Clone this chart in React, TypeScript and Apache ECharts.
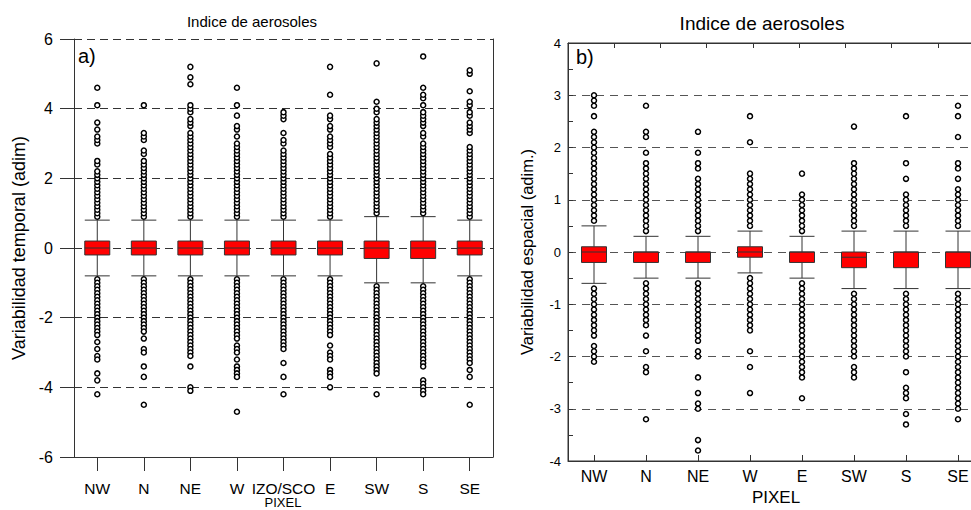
import React, { useEffect, useRef } from 'react';
import * as echarts from 'echarts';

const FONT = '"Liberation Sans", Arial, Helvetica, sans-serif';

// ---------- Panel a) ----------
const titleA = 'Indice de aerosoles';
const categoriesA = ['NW', 'N', 'NE', 'W', 'IZO/SCO', 'E', 'SW', 'S', 'SE'];
// [lower whisker, Q1, median, Q3, upper whisker]
const boxStatsA = [
  [-0.8, -0.2, 0, 0.2, 0.8],
  [-0.8, -0.2, 0, 0.2, 0.8],
  [-0.8, -0.2, 0, 0.2, 0.8],
  [-0.8, -0.2, 0, 0.2, 0.8],
  [-0.8, -0.2, 0, 0.2, 0.8],
  [-0.8, -0.2, 0, 0.2, 0.8],
  [-1.0, -0.3, 0, 0.2, 0.9],
  [-1.0, -0.3, 0, 0.2, 0.9],
  [-0.8, -0.2, 0, 0.2, 0.8],
];
const outliersA = [
  [0.9, 1, 1.1, 1.2, 1.3, 1.4, 1.5, 1.6, 1.7, 1.8, 1.9, 2, 2.1, 2.2, 2.4, 2.5, 3, 3.1, 3.2, 3.4, 3.6, 4.1, 4.6,
    -0.9, -1, -1.1, -1.2, -1.3, -1.4, -1.5, -1.6, -1.7, -1.8, -1.9, -2, -2.1, -2.2, -2.3, -2.4, -2.5, -2.7, -2.9, -3.1, -3.2, -3.6, -3.8, -4.2],
  [0.9, 1, 1.1, 1.2, 1.3, 1.4, 1.5, 1.6, 1.7, 1.8, 1.9, 2, 2.1, 2.2, 2.3, 2.4, 2.5, 2.7, 2.8, 3.1, 3.2, 3.3, 4.1,
    -0.9, -1, -1.1, -1.2, -1.3, -1.4, -1.5, -1.6, -1.7, -1.8, -1.9, -2, -2.1, -2.2, -2.3, -2.4, -2.6, -2.9, -3, -3.4, -3.7, -4.5],
  [0.9, 1, 1.1, 1.2, 1.3, 1.4, 1.5, 1.6, 1.7, 1.8, 1.9, 2, 2.1, 2.2, 2.3, 2.4, 2.5, 2.6, 2.7, 2.8, 2.9, 3, 3.1, 3.2, 3.3, 3.5, 3.6, 3.7, 3.9, 4, 4.1, 4.7, 4.9, 5.2,
    -0.9, -1, -1.1, -1.2, -1.3, -1.4, -1.5, -1.6, -1.7, -1.8, -1.9, -2, -2.1, -2.2, -2.3, -2.4, -2.5, -2.6, -2.7, -2.8, -2.9, -3, -3.1, -3.4, -4, -4.1],
  [0.9, 1, 1.1, 1.2, 1.3, 1.4, 1.5, 1.6, 1.7, 1.8, 1.9, 2, 2.1, 2.2, 2.3, 2.4, 2.5, 2.6, 2.7, 2.8, 2.9, 3, 3.2, 3.4, 3.5, 3.8, 4.1, 4.6,
    -0.9, -1, -1.1, -1.2, -1.3, -1.4, -1.5, -1.6, -1.7, -1.8, -1.9, -2, -2.1, -2.2, -2.3, -2.4, -2.5, -2.6, -2.8, -2.9, -3, -3.2, -3.4, -3.5, -3.6, -3.7, -4.7],
  [0.9, 1, 1.1, 1.2, 1.3, 1.4, 1.5, 1.6, 1.7, 1.8, 1.9, 2, 2.1, 2.2, 2.3, 2.4, 2.5, 2.6, 2.7, 2.8, 3, 3.1, 3.3, 3.7, 3.8, 3.9,
    -0.9, -1, -1.1, -1.2, -1.3, -1.4, -1.5, -1.6, -1.7, -1.8, -1.9, -2, -2.1, -2.2, -2.3, -2.4, -2.5, -2.6, -2.7, -2.8, -2.9, -3.3, -3.7, -4.2],
  [0.9, 1, 1.1, 1.2, 1.3, 1.4, 1.5, 1.6, 1.7, 1.8, 1.9, 2, 2.1, 2.2, 2.3, 2.4, 2.5, 2.6, 2.7, 2.9, 3, 3.1, 3.2, 3.4, 3.5, 3.7, 3.8, 4.4, 5.2,
    -0.9, -1, -1.1, -1.2, -1.3, -1.4, -1.5, -1.6, -1.7, -1.8, -1.9, -2, -2.1, -2.2, -2.3, -2.4, -2.5, -2.8, -3, -3.1, -3.2, -3.5, -3.6, -3.7, -4],
  [1, 1.1, 1.2, 1.3, 1.4, 1.5, 1.6, 1.7, 1.8, 1.9, 2, 2.1, 2.2, 2.3, 2.4, 2.5, 2.6, 2.7, 2.8, 2.9, 3, 3.1, 3.2, 3.3, 3.4, 3.5, 3.6, 3.7, 3.9, 4, 4.2, 5.3,
    -1.1, -1.2, -1.3, -1.4, -1.5, -1.6, -1.7, -1.8, -1.9, -2, -2.1, -2.2, -2.3, -2.4, -2.5, -2.6, -2.7, -2.8, -2.9, -3, -3.1, -3.2, -3.3, -3.4, -3.5, -3.6, -4.2],
  [1, 1.1, 1.2, 1.3, 1.4, 1.5, 1.6, 1.7, 1.8, 1.9, 2, 2.1, 2.2, 2.3, 2.4, 2.5, 2.6, 2.7, 2.8, 2.9, 3, 3.2, 3.3, 3.5, 3.6, 3.7, 3.8, 3.9, 4.1, 4.3, 4.4, 4.6, 5.5,
    -1.1, -1.2, -1.3, -1.4, -1.5, -1.6, -1.7, -1.8, -1.9, -2, -2.1, -2.2, -2.3, -2.4, -2.5, -2.6, -2.7, -2.8, -2.9, -3, -3.1, -3.2, -3.3, -3.4, -3.8, -3.9, -4, -4.1, -4.2],
  [0.9, 1, 1.1, 1.2, 1.3, 1.4, 1.5, 1.6, 1.7, 1.8, 1.9, 2, 2.1, 2.2, 2.3, 2.4, 2.5, 2.6, 2.7, 2.8, 2.9, 3.3, 3.4, 3.5, 3.6, 3.8, 3.9, 4.1, 4.2, 4.5, 5, 5.1,
    -0.9, -1, -1.1, -1.2, -1.3, -1.4, -1.5, -1.6, -1.7, -1.8, -1.9, -2, -2.1, -2.2, -2.3, -2.4, -2.5, -2.6, -2.7, -2.8, -2.9, -3, -3.1, -3.2, -3.3, -3.5, -3.7, -4.5],
];
const yTitleA = 'Variabilidad temporal (adim)';

// ---------- Panel b) ----------
const titleB = 'Indice de aerosoles';
const categoriesB = ['NW', 'N', 'NE', 'W', 'E', 'SW', 'S', 'SE'];
const boxStatsB = [
  [-0.6, -0.2, 0, 0.1, 0.5],
  [-0.5, -0.2, 0, 0, 0.3],
  [-0.5, -0.2, 0, 0, 0.3],
  [-0.4, -0.1, 0, 0.1, 0.4],
  [-0.5, -0.2, 0, 0, 0.3],
  [-0.7, -0.3, -0.1, 0, 0.4],
  [-0.7, -0.3, 0, 0, 0.4],
  [-0.7, -0.3, 0, 0, 0.4],
];
const outliersB = [
  [0.6, 0.7, 0.8, 0.9, 1, 1.1, 1.2, 1.3, 1.4, 1.5, 1.6, 1.7, 1.8, 1.9, 2, 2.1, 2.2, 2.3, 2.6, 2.8, 2.9, 3,
    -0.7, -0.8, -0.9, -1, -1.1, -1.2, -1.3, -1.4, -1.5, -1.6, -1.8, -1.9, -2, -2.1],
  [0.4, 0.5, 0.6, 0.7, 0.8, 0.9, 1, 1.1, 1.2, 1.3, 1.4, 1.5, 1.6, 1.7, 1.9, 2.2, 2.3, 2.8,
    -0.6, -0.7, -0.8, -0.9, -1, -1.1, -1.2, -1.3, -1.4, -1.6, -1.9, -2.2, -2.3, -3.2],
  [0.4, 0.5, 0.6, 0.7, 0.8, 0.9, 1, 1.1, 1.2, 1.3, 1.4, 1.6, 1.7, 1.9, 2.3,
    -0.6, -0.7, -0.8, -0.9, -1, -1.1, -1.2, -1.3, -1.4, -1.5, -1.6, -1.7, -1.9, -2, -2.4, -2.7, -2.9, -3, -3.6, -3.8],
  [0.5, 0.6, 0.7, 0.8, 0.9, 1, 1.1, 1.2, 1.3, 1.4, 1.5, 2.1, 2.6,
    -0.5, -0.6, -0.7, -0.8, -0.9, -1, -1.1, -1.2, -1.3, -1.4, -1.5, -1.9, -2.2, -2.7],
  [0.4, 0.5, 0.6, 0.7, 0.8, 0.9, 1, 1.1, 1.5,
    -0.6, -0.7, -0.8, -0.9, -1, -1.1, -1.2, -1.3, -1.4, -1.5, -1.6, -1.7, -1.8, -1.9, -2, -2.1, -2.2, -2.3, -2.4, -2.8],
  [0.5, 0.6, 0.7, 0.8, 0.9, 1, 1.1, 1.2, 1.3, 1.4, 1.5, 1.6, 1.7, 2.4,
    -0.8, -0.9, -1, -1.1, -1.2, -1.3, -1.4, -1.5, -1.6, -1.7, -1.8, -1.9, -2, -2.2, -2.3, -2.4],
  [0.5, 0.6, 0.7, 0.8, 0.9, 1, 1.1, 1.4, 1.7, 2.6,
    -0.8, -0.9, -1, -1.1, -1.2, -1.3, -1.4, -1.5, -1.6, -1.7, -1.8, -1.9, -2, -2.3, -2.6, -2.7, -2.8, -3.1, -3.3],
  [0.5, 0.6, 0.7, 0.8, 0.9, 1, 1.1, 1.2, 1.4, 1.6, 1.7, 2.2, 2.6, 2.8,
    -0.8, -0.9, -1, -1.1, -1.2, -1.3, -1.4, -1.5, -1.6, -1.7, -1.8, -1.9, -2, -2.1, -2.2, -2.3, -2.4, -2.5, -2.6, -2.7, -2.8, -2.9, -3, -3.2],
];
const yTitleB = 'Variabilidad espacial (adim.)';
const xTitle = 'PIXEL';

export default function App() {
  const ref = useRef<HTMLDivElement>(null);

  useEffect(() => {
    if (!ref.current) return;
    const chart = echarts.init(ref.current, null, { renderer: 'svg' });

    const scatterA = outliersA.flatMap((vals, i) => vals.map((v) => [i, v]));
    const scatterB = outliersB.flatMap((vals, i) => vals.map((v) => [i, v]));

    const outlierStyle = {
      color: '#ffffff',
      borderColor: '#000000',
      borderWidth: 1.5,
      opacity: 1,
    };

    const option: any = {
      animation: false,
      backgroundColor: '#ffffff',
      textStyle: { fontFamily: FONT },
      graphic: [
        {
          type: 'text', x: 252, y: 21, silent: true,
          style: { text: titleA, fontSize: 15, fontFamily: FONT, fill: '#000', textAlign: 'center', textVerticalAlign: 'middle' },
        },
        {
          type: 'text', x: 762, y: 23, silent: true,
          style: { text: titleB, fontSize: 19, fontFamily: FONT, fill: '#000', textAlign: 'center', textVerticalAlign: 'middle' },
        },
        {
          type: 'text', x: 78, y: 56, silent: true,
          style: { text: 'a)', fontSize: 20, fontFamily: FONT, fill: '#000', textAlign: 'left', textVerticalAlign: 'middle' },
        },
        {
          type: 'text', x: 576, y: 57, silent: true,
          style: { text: 'b)', fontSize: 20, fontFamily: FONT, fill: '#000', textAlign: 'left', textVerticalAlign: 'middle' },
        },
        {
          type: 'text', x: 283, y: 509, silent: true,
          style: { text: xTitle, fontSize: 13, fontFamily: FONT, fill: '#000', textAlign: 'center', textVerticalAlign: 'bottom' },
        },
      ],
      grid: [
        { left: 74, top: 39, width: 419, height: 418, containLabel: false, outerBoundsMode: 'none' },
        {
          left: 568, top: 43, width: 416, height: 418, containLabel: false, outerBoundsMode: 'none',
          show: true, borderColor: '#333', borderWidth: 1, backgroundColor: 'transparent',
        },
      ],
      xAxis: [
        {
          type: 'category', gridIndex: 0, data: categoriesA, position: 'bottom',
          boundaryGap: true,
          axisLine: { show: true, onZero: false, lineStyle: { color: '#333', width: 1 } },
          axisTick: { show: true, alignWithLabel: true, length: 14, inside: false, lineStyle: { color: '#333' } },
          axisLabel: { interval: 0, fontSize: 15.5, color: '#000', margin: 23, fontFamily: FONT },
          splitLine: { show: false },
        },
        {
          type: 'category', gridIndex: 1, data: categoriesB, position: 'bottom',
          boundaryGap: true,
          axisLine: { show: true, onZero: false, lineStyle: { color: '#333', width: 1 } },
          axisTick: { show: true, alignWithLabel: true, length: 6, inside: true, lineStyle: { color: '#333' } },
          axisLabel: { interval: 0, fontSize: 16, color: '#000', margin: 7, fontFamily: FONT },
          splitLine: { show: false },
          name: xTitle, nameLocation: 'middle', nameGap: 24,
          nameTextStyle: { fontSize: 17, color: '#000', fontFamily: FONT },
        },
        {
          type: 'value', gridIndex: 1, position: 'top', min: 0, max: 9, interval: 1,
          axisLine: { show: true, onZero: false, lineStyle: { color: '#333', width: 1 } },
          axisTick: { show: true, inside: true, length: 5, lineStyle: { color: '#333' } },
          axisLabel: { show: false },
          splitLine: { show: false },
        },
      ],
      yAxis: [
        {
          type: 'value', gridIndex: 0, min: -6, max: 6, interval: 2, position: 'left',
          axisLine: { show: true, onZero: false, lineStyle: { color: '#333', width: 1 } },
          axisTick: { show: true, inside: false, length: 14, lineStyle: { color: '#333' } },
          axisLabel: { fontSize: 16, color: '#000', margin: 21, fontFamily: FONT },
          splitLine: { show: true, lineStyle: { color: '#333', width: 1, type: [8, 5] } },
          name: yTitleA, nameLocation: 'middle', nameGap: 46, nameRotate: 90,
          nameTextStyle: { fontSize: 18, color: '#000', fontFamily: FONT },
        },
        {
          type: 'value', gridIndex: 0, min: -6, max: 6, interval: 2, position: 'right',
          axisLine: { show: true, onZero: false, lineStyle: { color: '#333', width: 1 } },
          axisTick: { show: false },
          axisLabel: { show: false },
          splitLine: { show: false },
        },
        {
          type: 'value', gridIndex: 1, min: -4, max: 4, interval: 1, position: 'left',
          axisLine: { show: true, onZero: false, lineStyle: { color: '#333', width: 1 } },
          axisTick: { show: true, inside: true, length: 5, lineStyle: { color: '#333' } },
          minorTick: { show: true, splitNumber: 2, length: 5, lineStyle: { color: '#333' } },
          axisLabel: { fontSize: 13, color: '#000', margin: 7, fontFamily: FONT },
          splitLine: { show: true, lineStyle: { color: '#555', width: 1, type: [8, 6] } },
          name: yTitleB, nameLocation: 'middle', nameGap: 33, nameRotate: 90,
          nameTextStyle: { fontSize: 16.5, color: '#000', fontFamily: FONT },
        },
      ],
      series: [
        {
          type: 'boxplot', xAxisIndex: 0, yAxisIndex: 0, data: boxStatsA,
          boxWidth: [25, 25],
          itemStyle: { color: '#ff0000', borderColor: '#333', borderWidth: 1 },
          emphasis: { disabled: true },
          z: 3,
        },
        {
          type: 'scatter', xAxisIndex: 0, yAxisIndex: 0, data: scatterA,
          symbol: 'circle', symbolSize: 5, itemStyle: outlierStyle,
          emphasis: { disabled: true }, z: 4,
        },
        {
          type: 'boxplot', xAxisIndex: 1, yAxisIndex: 2, data: boxStatsB,
          boxWidth: [25, 25],
          itemStyle: { color: '#ff0000', borderColor: '#333', borderWidth: 1 },
          emphasis: { disabled: true },
          z: 3,
        },
        {
          type: 'scatter', xAxisIndex: 1, yAxisIndex: 2, data: scatterB,
          symbol: 'circle', symbolSize: 5, itemStyle: outlierStyle,
          emphasis: { disabled: true }, z: 4,
        },
      ],
    };

    chart.setOption(option);
    return () => chart.dispose();
  }, []);

  return (
    <div
      ref={ref}
      style={{ position: 'fixed', left: 0, top: 0, width: 971, height: 510, background: '#fff' }}
    />
  );
}
